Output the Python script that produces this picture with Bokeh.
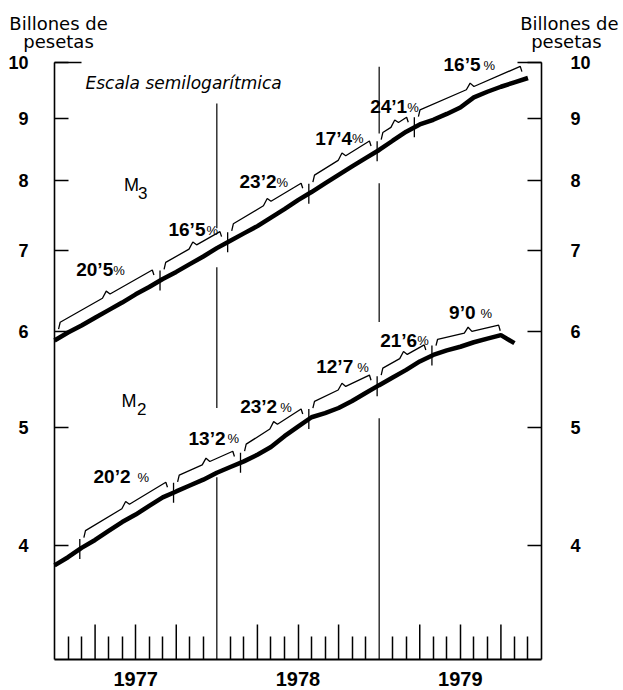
import numpy as np
from bokeh.plotting import figure
from bokeh.models import (LogAxis, LinearAxis, FixedTicker, BasicTickFormatter,
                          Range1d, ColumnDataSource)
from bokeh.core.properties import value
from bokeh.embed import file_html
from bokeh.resources import INLINE

# ---------------- data ----------------
# x = months since January 1977 (0 = Jan 1977, 36 = Jan 1980)
months_m3 = list(range(36))
m3 = [5.90, 5.99, 6.07, 6.16, 6.25, 6.34, 6.44, 6.53, 6.63, 6.72, 6.82, 6.92,
      7.03, 7.13, 7.23, 7.33, 7.45, 7.57, 7.70, 7.82, 7.95, 8.08, 8.21, 8.34,
      8.47, 8.62, 8.77, 8.89, 8.97, 9.07, 9.18, 9.36, 9.46, 9.55, 9.63, 9.71]
months_m2 = list(range(35))
m2 = [3.85, 3.91, 3.98, 4.04, 4.11, 4.18, 4.24, 4.31, 4.38, 4.43, 4.48, 4.53,
      4.59, 4.64, 4.69, 4.75, 4.82, 4.92, 5.01, 5.10, 5.14, 5.19, 5.26, 5.34,
      5.42, 5.50, 5.58, 5.67, 5.74, 5.79, 5.83, 5.88, 5.92, 5.96, 5.87]

# growth-rate periods (segment limits, in months) and their annual rates
m3_breaks = [0, 7.8, 12.8, 18.8, 23.85, 26.6, 35]
m3_rates = ["20’5", "16’5", "23’2", "17’4", "24’1", "16’5"]
m2_breaks = [1.87, 8.8, 13.75, 18.8, 23.85, 27.9, 33.4]
m2_rates = ["20’2", "13’2", "23’2", "12’7", "21’6", "9’0"]

y_ticks = [4, 5, 6, 7, 8, 9, 10]
year_ticks = [6, 18, 30]
year_labels = ["1977", "1978", "1979"]
quarter_ticks = [3, 9, 15, 21, 27, 33]
month_ticks = [1, 2, 4, 5, 7, 8, 10, 11, 13, 14, 16, 17, 19, 20, 22, 23,
               25, 26, 28, 29, 31, 32, 34, 35]

# ---------------- layout ----------------
W, H = 623, 690
FL, FT, FR, FB = 54, 62, 541, 659          # plotting box in canvas pixels
X0, X1 = 0, 36                             # months shown
Y0, Y1 = 3.22, 10.0                        # values shown (log scale)
PXM = (FR - FL) / (X1 - X0)                # px per month
K = (FB - FT) / (np.log10(Y1) - np.log10(Y0))   # px per decade
x_range = Range1d(X0 - FL / PXM, X1 + (W - FR) / PXM)
y_range = Range1d(10 ** (np.log10(Y0) - (H - FB) / K),
                  10 ** (np.log10(Y1) + FT / K))
SANS = value("Liberation Sans")
DEJA = value("DejaVu Sans")
RAISE = 0.3        # baseline correction for glyph texts, in em

# text anchor positions (end of number, baseline) and % gap in px
m3_lab_x = [4.34, 11.16, 16.41, 22.0, 26.07, 31.49]
m3_lab_y = [6.675, 7.20, 7.89, 8.57, 9.10, 9.85]
m3_gap = [0, 1, 0, 0, 0, 3]
m2_lab_x = [5.62, 12.64, 16.46, 22.08, 26.81, 31.12]
m2_lab_y = [4.51, 4.85, 5.15, 5.55, 5.84, 6.15]
m2_gap = [7, 2, 3, 4, 0, 5]

# year dividers with gaps where texts/lines cross
div_x = [12, 12, 12, 24, 24, 24]
div_y0 = [9.25, 6.78, 4.55, 9.92, 7.95, 5.09]
div_y1 = [7.30, 5.19, Y0, 8.74, 6.11, Y0]


def shift(v, px):
    return v * 10 ** (px / K)


def val_at(xs, ys, x):
    return 10 ** np.interp(x, xs, np.log10(ys))


p = figure(width=W, height=H, x_range=x_range, y_range=y_range,
           y_axis_type="log", x_axis_location=None, y_axis_location=None,
           title_location=None, output_backend="svg", toolbar_location=None,
           min_border=0, min_border_left=0, min_border_right=0,
           min_border_top=0, min_border_bottom=0)
p.xgrid.visible = False
p.ygrid.visible = False
p.outline_line_color = None
p.background_fill_color = "white"
p.border_fill_color = "white"

# vertical value axes (left and right)
for side, loc, standoff in (("left", X0, 26), ("right", X1, 29)):
    ax = LogAxis(fixed_location=loc, ticker=FixedTicker(ticks=y_ticks),
                 formatter=BasicTickFormatter())
    ax.axis_line_color = None
    ax.major_tick_in = 14
    ax.major_tick_out = 0
    ax.minor_tick_in = 0
    ax.minor_tick_out = 0
    ax.major_tick_line_width = 1.5
    ax.major_label_standoff = standoff
    ax.major_label_text_font = "Liberation Sans"
    ax.major_label_text_font_style = "bold"
    ax.major_label_text_font_size = "18px"
    ax.major_label_text_color = "black"
    p.add_layout(ax, side)

# time axis
xb = LinearAxis(fixed_location=Y0,
                ticker=FixedTicker(ticks=year_ticks, minor_ticks=month_ticks),
                major_label_overrides=dict(zip(year_ticks, year_labels)))
xb.axis_line_color = None
xb.major_tick_in = 35
xb.major_tick_out = 0
xb.minor_tick_in = 23
xb.minor_tick_out = 0
xb.major_tick_line_width = 1.5
xb.minor_tick_line_width = 1.5
xb.minor_tick_line_color = "black"
xb.major_label_standoff = 12
xb.major_label_text_font = "Liberation Sans"
xb.major_label_text_font_style = "bold"
xb.major_label_text_font_size = "20px"
xb.major_label_text_color = "black"
p.add_layout(xb, "below")

# box lines, quarter ticks, year dividers, long top ticks at 10
p.segment([X0, X1], [Y0, Y0], [X0, X1], [Y1, Y1], line_color="black",
          line_width=1.6)
p.segment([X0], [Y0], [X1], [Y0], line_color="black", line_width=2)
p.segment(quarter_ticks, [Y0] * len(quarter_ticks), quarter_ticks,
          [shift(Y0, 35)] * len(quarter_ticks), line_color="black",
          line_width=1.5)
p.segment(div_x, div_y0, div_x, div_y1, line_color="black", line_width=1.2)
p.segment([X0, X1 - 24 / PXM], [Y1, Y1], [X0 + 27 / PXM, X1], [Y1, Y1],
          line_color="black", line_width=1.5)

# series
p.line(months_m3, m3, line_color="black", line_width=4.5)
p.line(months_m2, m2, line_color="black", line_width=4.5)


def braces(xs, ys, breaks):
    bx, by = [], []
    for a, b in zip(breaks[:-1], breaks[1:]):
        la, lb = np.log10(val_at(xs, ys, a)), np.log10(val_at(xs, ys, b))
        xa, xe = a + 0.3, b - 0.45
        xm = (xa + xe) / 2
        pts = [(xa, 9), (xa + 0.12, 15), (xm - 0.28, 15), (xm, 20),
               (xm + 0.28, 15), (xe - 0.12, 15), (xe, 9)]
        bx.append([q[0] for q in pts])
        by.append([10 ** (la + (lb - la) * (q[0] - a) / (b - a) + q[1] / K)
                   for q in pts])
    return bx, by


for xs, ys, brk, ticks in ((months_m3, m3, m3_breaks, m3_breaks[1:-1]),
                           (months_m2, m2, m2_breaks, m2_breaks[:-1])):
    bx, by = braces(xs, ys, brk)
    p.multi_line(bx, by, line_color="black", line_width=1.3)
    tv = [val_at(xs, ys, t) for t in ticks]
    p.segment(ticks, [shift(v, 10) for v in tv], ticks,
              [shift(v, -10) for v in tv], line_color="black", line_width=1.3)


def txt(size, **kw):
    kw.setdefault("y_offset", -RAISE * size)
    p.text(text_baseline="alphabetic", text_font_size=f"{size}px",
           text_color="black", **kw)


for rates, lx, ly, gap in ((m3_rates, m3_lab_x, m3_lab_y, m3_gap),
                           (m2_rates, m2_lab_x, m2_lab_y, m2_gap)):
    src = ColumnDataSource(dict(x=lx, y=ly, t=rates, pc=["%"] * len(rates),
                                g=gap, yp=[shift(v, 1) for v in ly]))
    txt(19, x="x", y="y", text="t", source=src, text_align="right",
        text_font=SANS, text_font_style="bold")
    txt(13, x="x", y="yp", text="pc", x_offset="g", source=src,
        text_align="left", text_font=SANS)

# series names
txt(18, x=[5.13, 4.95], y=[7.84, 5.21], text=["M", "M"], text_align="left",
    text_font=SANS)
txt(17, x=[5.13, 4.95], y=[7.84, 5.21], text=["3", "2"], x_offset=[14, 15.5],
    y_offset=[7 - RAISE * 17, 8 - RAISE * 17], text_align="left",
    text_font=SANS)

txt(17, x=[2.29], y=[9.52], text=["Escala semilogarítmica"],
    text_align="left", text_font=DEJA, text_font_style="italic")

# unit titles above both value axes
txt(18, x=[0.3, 0.3, 38.06, 37.84], y=[10.66, 10.31, 10.66, 10.31],
    text=["Billones de", "pesetas", "Billones de", "pesetas"],
    text_align="center", text_font=DEJA)

open("out.html", "w").write(file_html(p, INLINE))
